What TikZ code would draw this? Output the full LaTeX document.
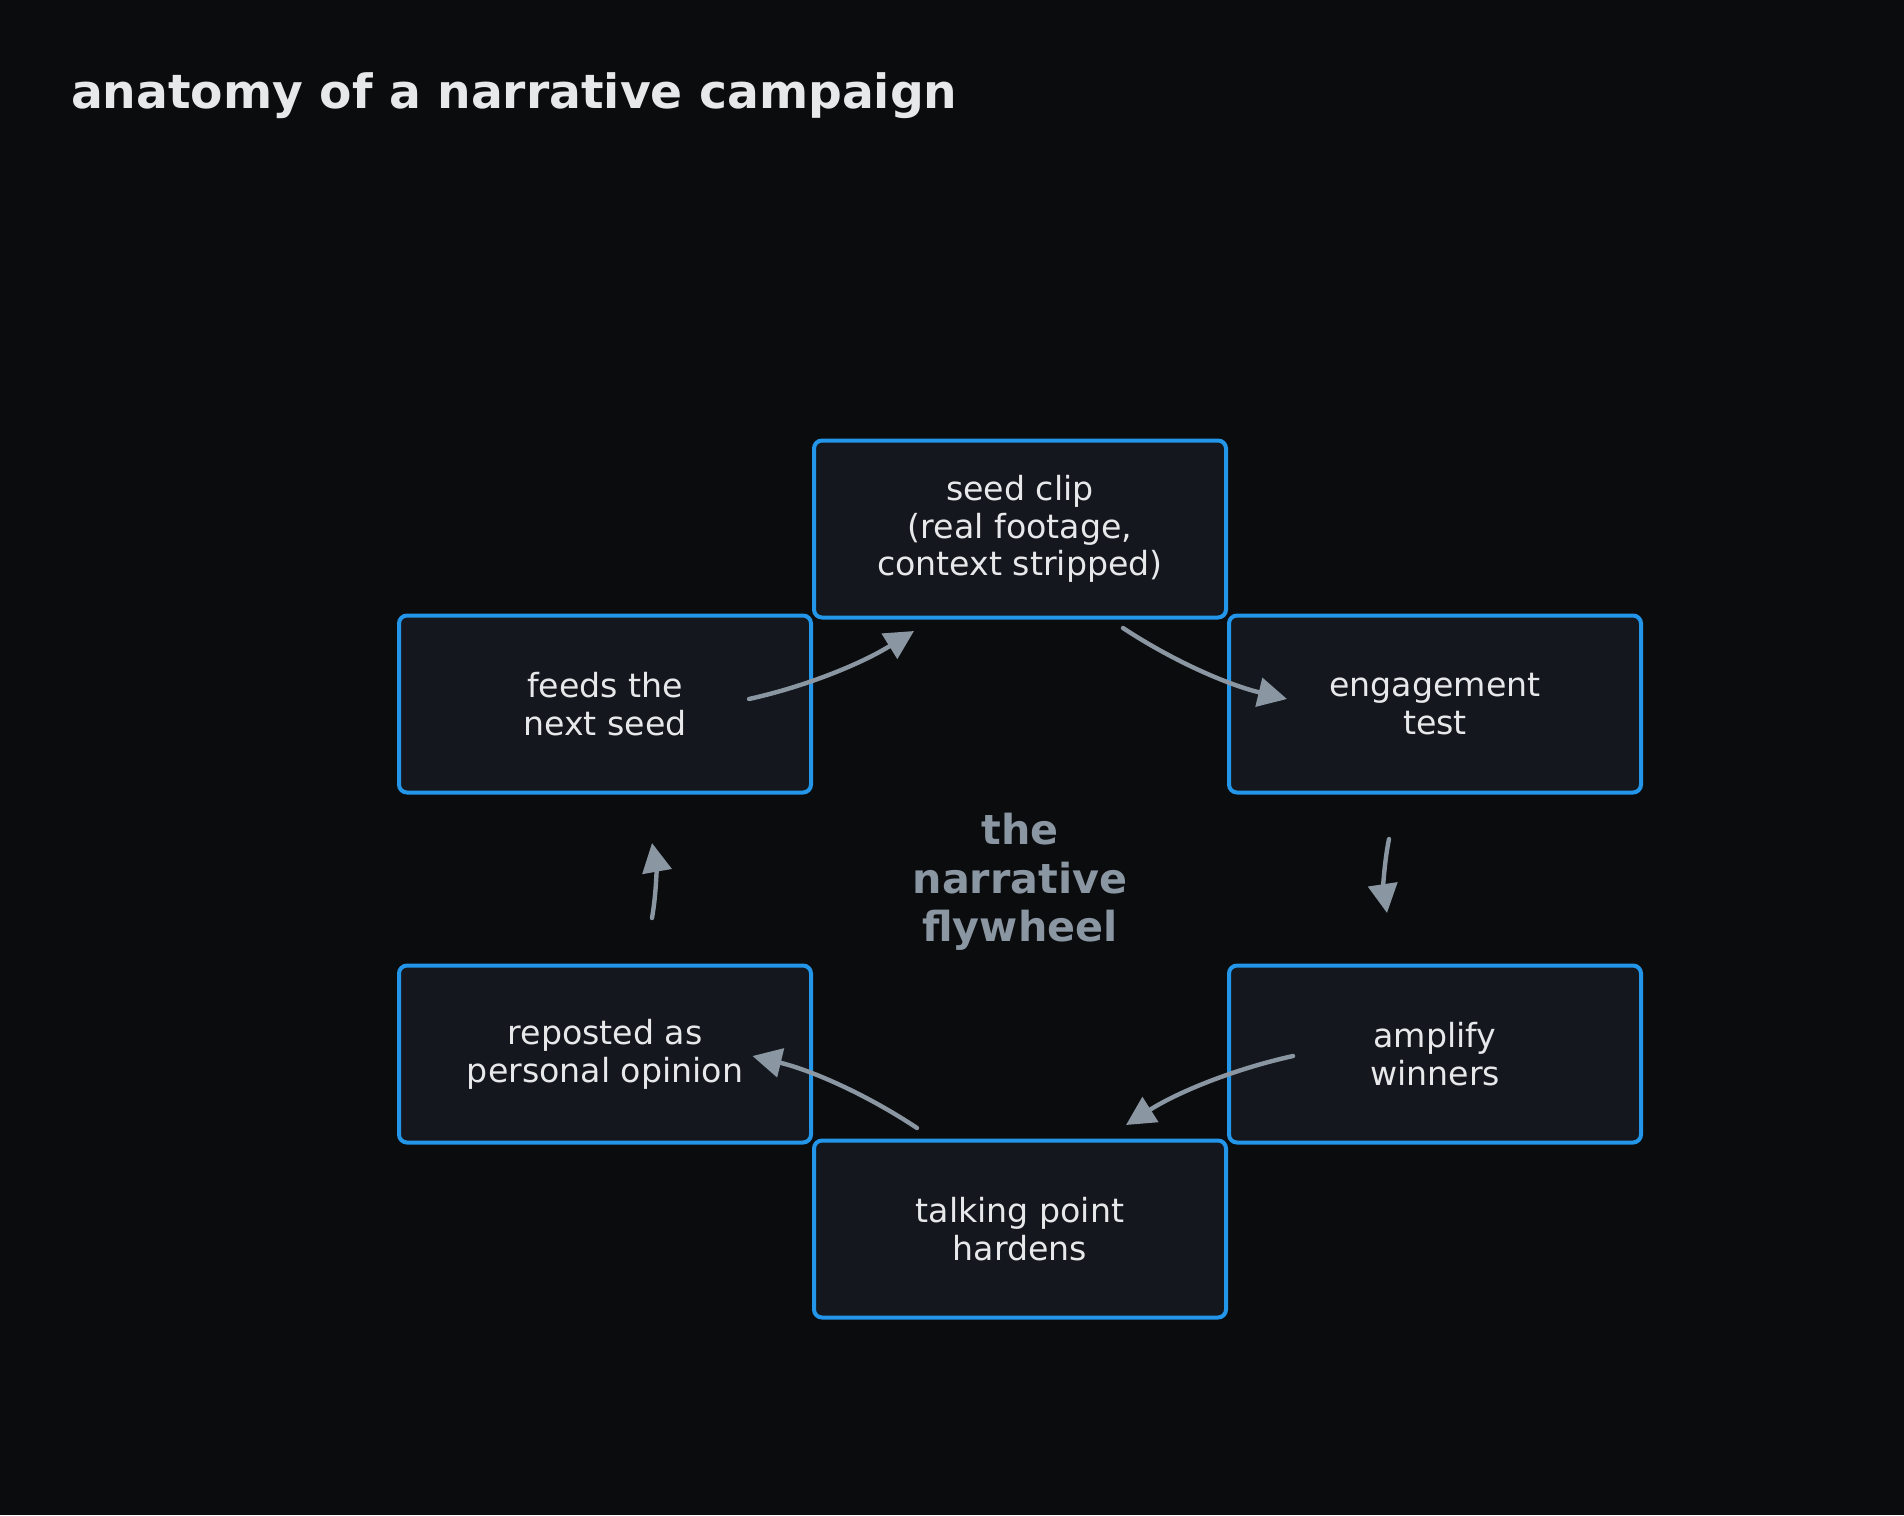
\documentclass[tikz,border=0pt]{standalone}
\usepackage{fontspec}
\setmainfont{DejaVu Sans}
\usetikzlibrary{arrows.meta}
\definecolor{bgc}{HTML}{0B0C0E}
\definecolor{boxfill}{HTML}{14181E}
\definecolor{boxline}{HTML}{2396EA}
\definecolor{txt}{HTML}{E6E8EA}
\definecolor{muted}{HTML}{8B96A3}
\tikzset{
  stagebox/.style={draw=boxline, fill=boxfill, line width=2pt, rounded corners=4pt,
    minimum width=206pt, minimum height=88.5pt, inner sep=0pt, align=center,
    text=txt, font=\fontsize{16.6pt}{18.9pt}\selectfont},
  flow/.style={draw=muted, line width=2.2pt, line cap=round,
    -{Triangle[length=14.5pt,width=14.5pt]}},
}
\begin{document}
\begin{tikzpicture}[x=0.5pt,y=-0.5pt]
\fill[bgc] (0,0) rectangle (1904,1515);
\useasboundingbox (0,0) rectangle (1904,1515);

\node[anchor=base west, text=txt, font=\fontsize{23.6pt}{28pt}\selectfont\bfseries] (title) at (64,108) {anatomy of a narrative campaign};

\node[stagebox] (seed) at (1020,529) {seed clip\\(real footage,\\context stripped)};
\node[stagebox] (engage) at (1435,704) {engagement\\test};
\node[stagebox] (amplify) at (1435,1054) {amplify\\winners};
\node[stagebox] (talk) at (1020,1229) {talking point\\hardens};
\node[stagebox] (repost) at (605,1054) {reposted as\\personal opinion};
\node[stagebox] (feeds) at (605,704) {feeds the\\next seed};

\node[align=center, text=muted, font=\fontsize{20.65pt}{24.3pt}\selectfont\bfseries] (hub) at (1020,882) {the\\narrative\\flywheel};

\coordinate (a1s) at (749,699);   \coordinate (a1e) at (914,631);
\coordinate (a2s) at (1123,628);  \coordinate (a2e) at (1287,699);
\coordinate (a3s) at (1389,839);  \coordinate (a3e) at (1387,913);
\coordinate (a4s) at (1293,1056); \coordinate (a4e) at (1126,1125);
\coordinate (a5s) at (917,1128);  \coordinate (a5e) at (752.5,1056);
\coordinate (a6s) at (652,918);   \coordinate (a6e) at (652,843);

\draw[flow] (a1s) .. controls (806.3,686.3) and (861.3,663.7) .. (a1e);
\draw[flow] (a2s) .. controls (1173.5,661.3) and (1228.2,684.9) .. (a2e);
\draw[flow] (a3s) .. controls (1384,863.5) and (1383.3,888.2) .. (a3e);
\draw[flow] (a4s) .. controls (1233.3,1069.2) and (1177.6,1092.2) .. (a4e);
\draw[flow] (a5s) .. controls (866.4,1094.3) and (811.6,1070.3) .. (a5e);
\draw[flow] (a6s) .. controls (656.4,893) and (656.4,868) .. (a6e);
\end{tikzpicture}
\end{document}
